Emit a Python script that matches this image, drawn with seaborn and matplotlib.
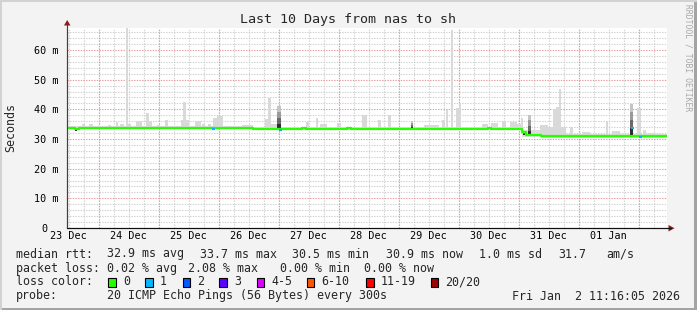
import datetime as dt
import numpy as np
import pandas as pd
import matplotlib
matplotlib.use("Agg")
import matplotlib.pyplot as plt
import seaborn as sns
from matplotlib.patches import Rectangle, Polygon
from matplotlib.lines import Line2D
from matplotlib.transforms import ScaledTranslation

# ---------------- data ----------------
start_time = dt.datetime(2025, 12, 23, 11, 16, 5)
period_hours = 240
day_labels = ["23 Dec", "24 Dec", "25 Dec", "26 Dec", "27 Dec",
              "28 Dec", "29 Dec", "30 Dec", "31 Dec", "01 Jan"]
ytick_vals = [0, 10, 20, 30, 40, 50, 60]
ytick_labels = ["0", "10 m", "20 m", "30 m", "40 m", "50 m", "60 m"]

# median rtt (ms), step series, hours since start
median_h = [0, 3.2, 4.8, 74.4, 94.0, 95.6, 112.0, 113.6, 168.4, 169.6, 182.0, 183.6, 189.6]
median_ms = [33.7, 33.4, 33.7, 33.4, 33.7, 33.3, 33.6, 33.3, 33.6, 33.3, 32.4, 31.2, 30.9]

# thin smoke band around the median
band_h = [0, 74.4, 182.0, 189.6]
band_top = [34.3, 34.0, 33.0, 31.6]
band_bottom = [33.2, 32.9, 30.6, 30.4]

# light smoke columns (start h, end h, top ms)
smoke_start = [6.0, 8.8, 16.4, 19.6, 21.2, 23.6, 24.4, 27.6, 31.6, 32.8, 36.0, 39.2, 45.6, 46.4,
               47.6, 51.2, 54.0, 56.4, 58.4, 60.0, 70.0, 79.2, 80.4, 81.6, 95.6, 99.6, 101.2,
               108.0, 118.0, 124.4, 128.4, 142.8, 150.0, 151.6, 153.6, 155.6, 156.8, 166.0,
               169.6, 174.0, 177.2, 180.0, 181.6, 189.2, 192.4, 194.4, 195.6, 196.8, 197.6,
               201.2, 206.0, 215.6, 218.0, 228.0, 230.4, 232.4]
smoke_end = [7.2, 10.4, 17.6, 20.4, 22.8, 24.4, 25.6, 30.0, 32.8, 34.0, 37.2, 40.4, 46.4, 47.6,
             48.8, 53.6, 55.2, 57.6, 60.0, 62.4, 74.4, 80.4, 81.6, 84.0, 96.8, 100.4, 104.0,
             109.6, 120.0, 125.6, 129.6, 148.8, 151.2, 152.4, 154.4, 156.8, 157.6, 168.4,
             172.4, 175.6, 180.0, 181.6, 182.4, 192.4, 194.4, 195.6, 196.8, 197.6, 199.6,
             202.4, 209.2, 216.4, 221.2, 229.6, 231.6, 235.2]
smoke_top = [35.1, 35.1, 34.8, 35.6, 34.9, 67.5, 35.1, 35.9, 38.7, 35.9, 34.8, 36.5, 36.5, 42.6,
             36.5, 36.1, 35.1, 35.1, 37.2, 37.6, 34.7, 36.8, 43.8, 35.1, 35.6, 37.0, 35.1,
             35.4, 38.0, 36.4, 38.0, 34.6, 36.4, 39.6, 66.8, 40.3, 42.1, 35.1,
             35.4, 35.9, 35.6, 35.2, 37.0, 34.8, 34.0, 40.1, 40.8, 46.9, 34.0,
             34.0, 32.4, 36.2, 32.6, 40.6, 32.9, 32.0]

# dark smoke columns (start h, end h, top ms, bottom ms)
dark_start = [3.2, 84.0, 137.6, 182.4, 184.4, 225.2]
dark_end = [4.0, 85.6, 138.4, 183.6, 185.6, 226.4]
dark_top = [33.5, 41.2, 36.1, 32.8, 38.1, 41.8]
dark_bottom = [32.8, 33.1, 33.2, 31.3, 30.9, 30.9]

# packet loss marks on the median (1/20 loss)
loss_h = [58.0, 84.8, 225.6, 228.8]
loss_ms = [33.3, 33.1, 33.8, 30.6]

loss_names = ["0", "1", "2", "3", "4-5", "6-10", "11-19", "20/20"]
loss_colors = ["#26ff00", "#00b8ff", "#0059ff", "#5e00ff", "#dd00ff", "#ff5500", "#ff0000", "#a00000"]

# ---------------- style ----------------
sns.set_theme(style="white")
plt.rcParams["font.family"] = ["DejaVu Sans Mono", "DejaVu Sans"]

W, H = 697, 310
fig = plt.figure(figsize=(W / 100, H / 100), dpi=100, facecolor="#f3f3f3")
L, R, T, B = 67, 667, 28, 228
ax = fig.add_axes([L / W, 1 - B / H, (R - L) / W, (B - T) / H])
ax.set_facecolor("white")

def fx(px):
    return px / W

def fy(py):
    return 1 - py / H

ymax = 67.4
ax.set_xlim(0, period_hours)
ax.set_ylim(0, ymax)

# grid
first_noon = (dt.datetime(2025, 12, 23, 12) - start_time).total_seconds() / 3600
first_midnight = first_noon + 12
g = first_noon
while g < period_hours:
    ax.axvline(g, color="#cfcfcf", lw=0.8, ls=(0, (1.2, 1.2)), zorder=0.5)
    g += 6
g = first_midnight
while g < period_hours:
    ax.axvline(g, color="#e79a9a", lw=0.8, ls=(0, (1.2, 1.2)), zorder=0.6)
    g += 24
for yv in range(2, 68, 2):
    if yv % 10 == 0:
        ax.axhline(yv, color="#e79a9a", lw=0.8, ls=(0, (1.2, 1.2)), zorder=0.6)
    else:
        ax.axhline(yv, color="#cfcfcf", lw=0.8, ls=(0, (1.2, 1.2)), zorder=0.5)

# smoke band
bh = list(band_h) + [period_hours]
ax.fill_between(bh, list(band_bottom) + [band_bottom[-1]], list(band_top) + [band_top[-1]],
                step="post", color="#dddddd", lw=0, zorder=1)

mh = np.array(median_h)
mv = np.array(median_ms)

def median_at(h):
    return mv[np.searchsorted(mh, h, side="right") - 1]

s0 = np.array(smoke_start)
s1 = np.array(smoke_end)
st = np.array(smoke_top)
sb = np.array([median_at(h) - 0.4 for h in s0])
ax.bar(s0, st - sb, width=s1 - s0, bottom=sb, align="edge", color="#d9d9d9", lw=0, zorder=1.2)

shades = ["#c4c4c4", "#9a9a9a", "#6a6a6a", "#2e2e2e"]
for a, b, t, bo in zip(dark_start, dark_end, dark_top, dark_bottom):
    n = len(shades)
    for i, c in enumerate(shades):
        hi = t - (t - bo) * i / n
        lo = t - (t - bo) * (i + 1) / n
        ax.bar(a, hi - lo, width=b - a, bottom=lo, align="edge", color=c, lw=0, zorder=1.3)

# median line
df = pd.DataFrame({"h": list(median_h) + [period_hours],
                   "ms": list(median_ms) + [median_ms[-1]]})
sns.lineplot(data=df, x="h", y="ms", drawstyle="steps-post", color=loss_colors[0],
             lw=1.6, ax=ax, zorder=3)
for h, v in zip(loss_h, loss_ms):
    ax.hlines(v, h, h + 1.2, color=loss_colors[1], lw=1.6, zorder=3.5)

# axes
for s in ["top", "right"]:
    ax.spines[s].set_visible(False)
ax.spines["left"].set_color("#404040")
ax.spines["bottom"].set_color("#101010")
ax.spines["left"].set_linewidth(0.8)
ax.spines["bottom"].set_linewidth(0.8)
ax.set_xlabel("")
ax.set_ylabel("")

noon_pos = [first_noon + 24 * i for i in range(len(day_labels))]
ax.set_xticks(noon_pos)
ax.set_xticklabels(day_labels, fontsize=7.3)
ax.set_yticks(ytick_vals)
ax.set_yticklabels(ytick_labels, fontsize=7.3)
ax.tick_params(axis="both", length=0, colors="black")
ax.tick_params(axis="y", pad=6)
ax.tick_params(axis="x", pad=2.5)
lab0 = ax.get_yticklabels()[0]
lab0.set_transform(lab0.get_transform() + ScaledTranslation(-11 / 100, 0, fig.dpi_scale_trans))

# axis extensions and arrows
fig.add_artist(Line2D([fx(L), fx(L)], [fy(B), fy(23)], color="#404040", lw=0.8))
fig.add_artist(Line2D([fx(L), fx(671)], [fy(B), fy(B)], color="#101010", lw=0.8))
fig.add_artist(Polygon([(fx(64), fy(25.5)), (fx(70.5), fy(25.5)), (fx(67.2), fy(20))],
                       closed=True, color="#8b1a1a", lw=0))
fig.add_artist(Polygon([(fx(668.5), fy(225)), (fx(668.5), fy(231.5)), (fx(674.5), fy(228.2))],
                       closed=True, color="#8b1a1a", lw=0))

# titles
fig.text(fx(348.5), fy(19), "Last 10 Days from nas to sh", ha="center", va="center", fontsize=9.6)
fig.text(fx(11), fy(128), "Seconds", rotation=90, ha="center", va="center", fontsize=8.4)
fig.text(fx(688), fy(4), "RRDTOOL / TOBI OETIKER", rotation=270, ha="center", va="top",
         fontsize=5.8, color="#a8a8a8")

fs = 8.4
row1 = [(16, "median rtt:"), (107.3, "32.9 ms avg"), (200, "33.7 ms max"), (292.7, "30.5 ms min"),
        (386, "30.9 ms now"), (479.3, "1.0 ms sd"), (558.3, "31.7"), (606.7, "am/s")]
row2 = [(16, "packet loss:"), (107.3, "0.02 % avg"), (188.3, "2.08 % max"),
        (280, "0.00 % min"), (365, "0.00 % now")]
for x, t in row1:
    fig.text(fx(x - 0.5), fy(254), t, ha="left", va="center", fontsize=fs)
for x, t in row2:
    fig.text(fx(x - 0.5), fy(268.3), t, ha="left", va="center", fontsize=fs)
fig.text(fx(15.5), fy(281.7), "loss color:", ha="left", va="center", fontsize=fs)
box_x = [108.3, 145, 182.7, 219.3, 256.7, 306.7, 366, 430.7]
for bx, name, c in zip(box_x, loss_names, loss_colors):
    fig.add_artist(Rectangle((fx(bx), fy(286.5)), 7.5 / W, 9 / H, facecolor=c,
                             edgecolor="black", lw=0.8))
    fig.text(fx(bx + 14.5), fy(281.7), name, ha="left", va="center", fontsize=fs)
fig.text(fx(15.5), fy(296), "probe:", ha="left", va="center", fontsize=fs)
fig.text(fx(106.8), fy(296), "20 ICMP Echo Pings (56 Bytes) every 300s", ha="left", va="center", fontsize=fs)
fig.text(fx(680.5), fy(296), "Fri Jan  2 11:16:05 2026", ha="right", va="center", fontsize=fs)

# frame
fig.add_artist(Rectangle((0, 0), 1, 2 / H, color="#a4a4a4", lw=0))
fig.add_artist(Rectangle((1 - 3 / W, 0), 3 / W, 1, color="#a4a4a4", lw=0))
fig.add_artist(Rectangle((0, 1 - 2 / H), 1, 2 / H, color="#d2d2d2", lw=0))
fig.add_artist(Rectangle((0, 0), 2 / W, 1, color="#d2d2d2", lw=0))

fig.savefig("out.png", dpi=100, facecolor=fig.get_facecolor())
